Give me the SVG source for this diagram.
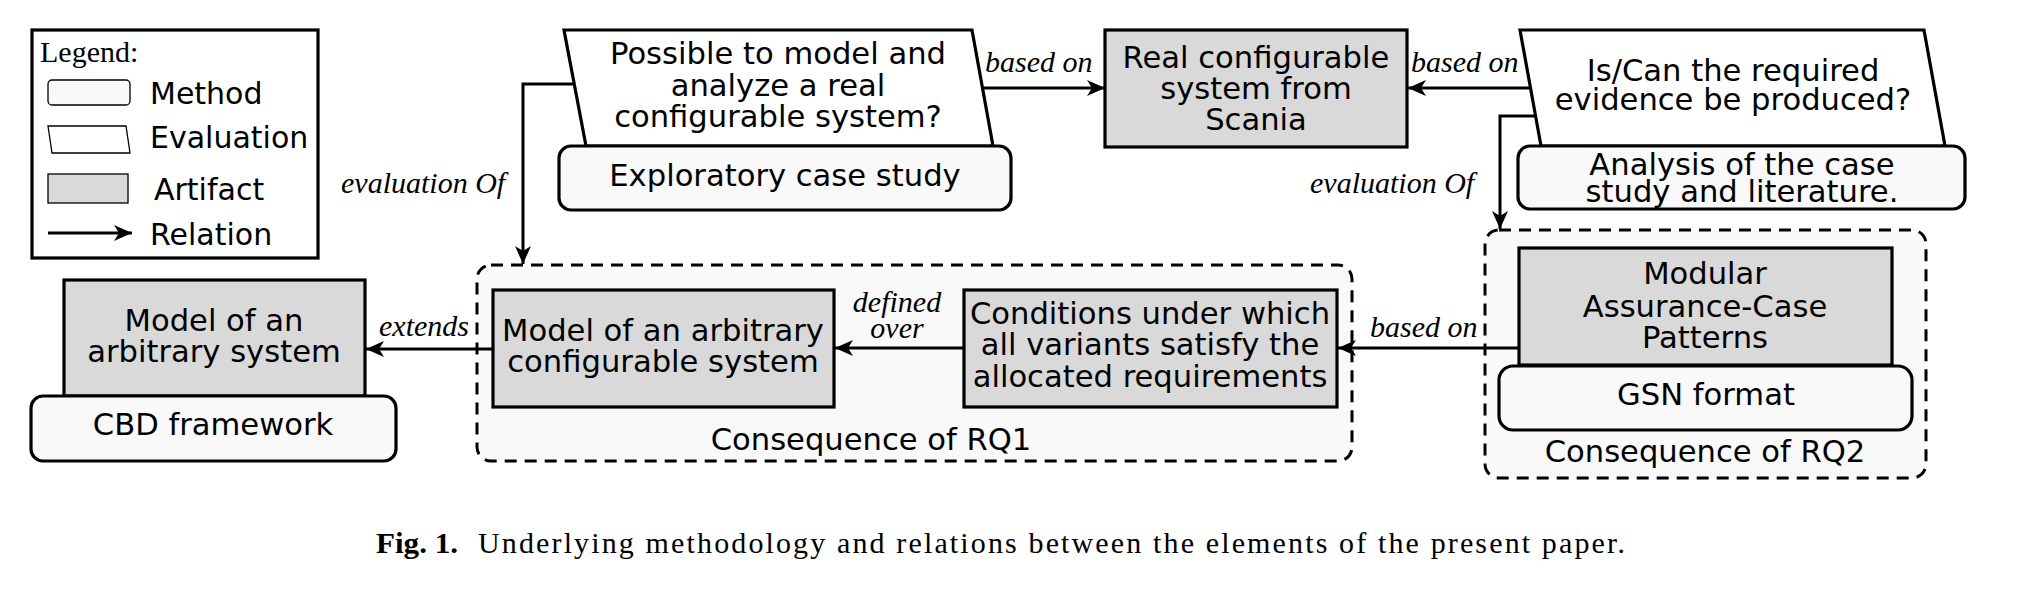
<svg xmlns="http://www.w3.org/2000/svg" width="2025" height="589" viewBox="0 0 2025 589">
<style>
.sans{font-family:"DejaVu Sans",Verdana,sans-serif;font-size:30.6px;fill:#000;text-anchor:middle}
.leg{font-family:"DejaVu Sans",Verdana,sans-serif;font-size:30px;fill:#000}
.rel{font-family:"Liberation Serif","Times New Roman",serif;font-style:italic;font-size:30px;fill:#000}
.art{fill:#d9d9d9;stroke:#000;stroke-width:3.2}
.meth{fill:#f9f9f9;stroke:#000;stroke-width:3.2}
.eval{fill:#fff;stroke:#000;stroke-width:3.2}
.cont{fill:#f9f9f9;stroke:#000;stroke-width:3;stroke-dasharray:12 8}
.con{fill:none;stroke:#000;stroke-width:3;marker-end:url(#ah)}
</style>
<defs>
<marker id="ah" markerUnits="userSpaceOnUse" markerWidth="20" markerHeight="16" refX="18" refY="8" orient="auto">
<path d="M0,0 L18,8 L0,16 L5,8 z" fill="#000"/>
</marker>
</defs>
<rect width="2025" height="589" fill="#fff"/>

<g id="legend">
<rect x="32" y="30" width="286" height="228" fill="#fff" stroke="#000" stroke-width="3.2"/>
<text x="40" y="62" font-family="Liberation Serif,serif" font-size="30">Legend:</text>
<rect x="48" y="80" width="82" height="25" rx="4" fill="#f9f9f9" stroke="#000" stroke-width="1.3"/>
<text class="leg" x="150" y="104">Method</text>
<path d="M48,126 L126,126 L130,153 L52,153 Z" fill="#fff" stroke="#000" stroke-width="1.3"/>
<text class="leg" x="150" y="148">Evaluation</text>
<rect x="48" y="174" width="80" height="29" fill="#d9d9d9" stroke="#000" stroke-width="1.3"/>
<text class="leg" x="154" y="200">Artifact</text>
<line x1="48" y1="233" x2="132" y2="233" class="con"/>
<text class="leg" x="150" y="245">Relation</text>
</g>

<g id="rq1-container">
<rect class="cont" x="477" y="265" width="875" height="196" rx="14"/>
<text class="sans" x="871" y="450">Consequence of RQ1</text>
</g>
<g id="rq2-container">
<rect class="cont" x="1485" y="230" width="441" height="248" rx="14"/>
<text class="sans" x="1705" y="462">Consequence of RQ2</text>
</g>

<g id="connectors">
<polyline class="con" points="574,84 523,84 523,264"/>
<polyline class="con" points="1536,116 1500,116 1500,229"/>
<line class="con" x1="983" y1="88" x2="1105" y2="88"/>
<line class="con" x1="1530" y1="88" x2="1408" y2="88"/>
<line class="con" x1="1519" y1="348" x2="1338" y2="348"/>
<line class="con" x1="964" y1="348" x2="835" y2="348"/>
<line class="con" x1="493" y1="349" x2="366" y2="349"/>
<text class="rel" x="985" y="72">based on</text>
<text class="rel" x="1411" y="72">based on</text>
<text class="rel" x="341" y="193">evaluation Of</text>
<text class="rel" x="1310" y="193">evaluation Of</text>
<text class="rel" x="1370" y="337">based on</text>
<text class="rel" x="897" y="312" text-anchor="middle">defined</text>
<text class="rel" x="897" y="338" text-anchor="middle">over</text>
<text class="rel" x="379" y="336">extends</text>
</g>

<g id="eval-possible">
<path class="eval" d="M564,30 L972,30 L993,146 L586,146 Z"/>
<text class="sans" x="778" y="64">Possible to model and</text>
<text class="sans" x="778" y="96">analyze a real</text>
<text class="sans" x="778" y="127">configurable system?</text>
</g>
<g id="method-exploratory">
<rect class="meth" x="559" y="146" width="452" height="64" rx="12"/>
<text class="sans" x="785" y="186">Exploratory case study</text>
</g>

<g id="artifact-scania">
<rect class="art" x="1105" y="30" width="302" height="117"/>
<text class="sans" x="1256" y="68">Real configurable</text>
<text class="sans" x="1256" y="99">system from</text>
<text class="sans" x="1256" y="130">Scania</text>
</g>

<g id="eval-evidence">
<path class="eval" d="M1520,30 L1924,30 L1945,146 L1541,146 Z"/>
<text class="sans" x="1733" y="81">Is/Can the required</text>
<text class="sans" x="1733" y="110">evidence be produced?</text>
</g>
<g id="method-analysis">
<rect class="meth" x="1518" y="146" width="447" height="63" rx="12"/>
<text class="sans" x="1742" y="175">Analysis of the case</text>
<text class="sans" x="1742" y="202">study and literature.</text>
</g>

<g id="artifact-model-arbitrary">
<rect class="art" x="64" y="280" width="301" height="116"/>
<text class="sans" x="214" y="331">Model of an</text>
<text class="sans" x="214" y="362">arbitrary system</text>
</g>
<g id="method-cbd">
<rect class="meth" x="31" y="396" width="365" height="65" rx="12"/>
<text class="sans" x="213" y="435">CBD framework</text>
</g>

<g id="artifact-model-configurable">
<rect class="art" x="493" y="290" width="341" height="117"/>
<text class="sans" x="663" y="341">Model of an arbitrary</text>
<text class="sans" x="663" y="372">configurable system</text>
</g>

<g id="artifact-conditions">
<rect class="art" x="964" y="290" width="373" height="117"/>
<text class="sans" x="1150" y="324">Conditions under which</text>
<text class="sans" x="1150" y="355">all variants satisfy the</text>
<text class="sans" x="1150" y="387">allocated requirements</text>
</g>

<g id="artifact-modular">
<rect class="art" x="1519" y="248" width="373" height="117"/>
<text class="sans" x="1705" y="284">Modular</text>
<text class="sans" x="1705" y="317">Assurance-Case</text>
<text class="sans" x="1705" y="348">Patterns</text>
</g>
<g id="method-gsn">
<rect class="meth" x="1499" y="366" width="413" height="64" rx="14"/>
<text class="sans" x="1706" y="405">GSN format</text>
</g>

<g id="caption">
<text x="376" y="553" font-family="Liberation Serif,serif" font-size="30" font-weight="bold" textLength="82" lengthAdjust="spacingAndGlyphs">Fig. 1.</text>
<text x="478" y="553" font-family="Liberation Serif,serif" font-size="30" textLength="1147" lengthAdjust="spacing">Underlying methodology and relations between the elements of the present paper.</text>
</g>
</svg>
